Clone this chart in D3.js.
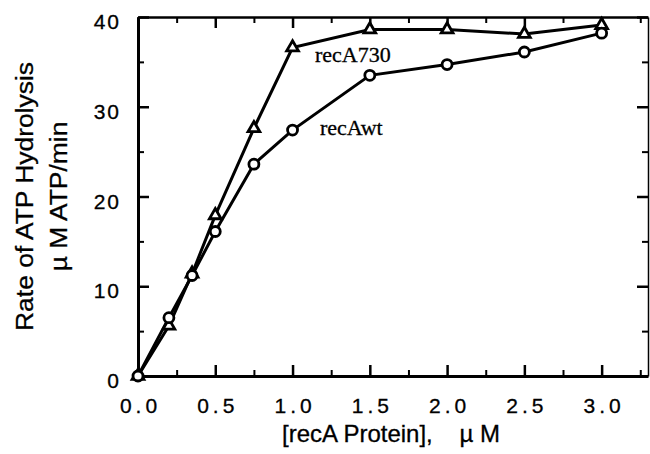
<!DOCTYPE html>
<html>
<head>
<meta charset="utf-8">
<script src="https://cdn.jsdelivr.net/npm/d3@7"></script>
<style>
  body { margin: 0; background: #fff; }
  svg { display: block; }
  .tick text { font-family: "Liberation Sans", Arial, sans-serif; font-size: 21px; fill: #000; stroke: #000; stroke-width: 0.3px; }
  .lbl { font-family: "Liberation Serif", "Times New Roman", serif; font-size: 22px; fill: #000; stroke: #000; stroke-width: 0.3px; }
  .title { font-family: "Liberation Sans", Arial, sans-serif; font-size: 24px; fill: #000; white-space: pre; stroke: #000; stroke-width: 0.3px; }
</style>
</head>
<body>
<div id="chart"></div>
<script>
// data
const conc = [0, 0.2, 0.35, 0.5, 0.75, 1.0, 1.5, 2.0, 2.5, 3.0];
const recA730 = [0, 5.6, 11.4, 17.9, 27.6, 36.6, 38.6, 38.6, 38.1, 39.1];
const recAwt = [0, 6.5, 11.2, 16.1, 23.6, 27.4, 33.5, 34.7, 36.1, 38.2];
const xTicks = [0, 0.5, 1.0, 1.5, 2.0, 2.5, 3.0];
const xMinor = [0.25, 0.75, 1.25, 1.75, 2.25, 2.75, 3.25];
const yTicks = [0, 10, 20, 30, 40];
const yMinor = [5, 15, 25, 35];

const width = 650, height = 454;
const svg = d3.select('#chart').append('svg')
  .attr('width', width).attr('height', height);

const x = d3.scaleLinear().domain([0, 3.3]).range([138, 648]);
const y = d3.scaleLinear().domain([0, 40]).range([376, 17]);

function styleAxis(g, w) {
  g.select('.domain').attr('stroke-width', w);
  g.selectAll('.tick line').attr('stroke-width', 2.5);
}
function minor(g) {
  g.select('.domain').remove();
  g.selectAll('line').attr('stroke-width', 2);
}

// bottom
svg.append('g').attr('transform', `translate(0,${y(0)})`)
  .call(d3.axisBottom(x).tickValues(xTicks).tickSizeInner(-11).tickSizeOuter(0)
    .tickPadding(22).tickFormat(d3.format('.1f')))
  .call(g => styleAxis(g, 3))
  .call(g => g.selectAll('.tick text').attr('letter-spacing', '4px').attr('dx', '2px'));
svg.append('g').attr('transform', `translate(0,${y(0)})`)
  .call(d3.axisBottom(x).tickValues(xMinor).tickSize(-6).tickFormat(''))
  .call(minor);

// top
svg.append('g').attr('transform', `translate(0,${y(40)})`)
  .call(d3.axisTop(x).tickValues(xTicks).tickSizeInner(-11).tickSizeOuter(0).tickFormat(''))
  .call(g => styleAxis(g, 2.5));
svg.append('g').attr('transform', `translate(0,${y(40)})`)
  .call(d3.axisTop(x).tickValues(xMinor).tickSize(-6).tickFormat(''))
  .call(minor);

// left
svg.append('g').attr('transform', `translate(${x(0)},0)`)
  .call(d3.axisLeft(y).tickValues(yTicks).tickSizeInner(-11).tickSizeOuter(0)
    .tickPadding(17).tickFormat(d3.format('d')))
  .call(g => styleAxis(g, 3))
  .call(g => g.selectAll('.tick text').attr('dy', '0.55em').attr('letter-spacing', '2px'));
svg.append('g').attr('transform', `translate(${x(0)},0)`)
  .call(d3.axisLeft(y).tickValues(yMinor).tickSize(-6).tickFormat(''))
  .call(minor);

// right
svg.append('g').attr('transform', `translate(${x(3.3)},0)`)
  .call(d3.axisRight(y).tickValues(yTicks).tickSizeInner(-11).tickSizeOuter(0).tickFormat(''))
  .call(g => styleAxis(g, 1.5));
svg.append('g').attr('transform', `translate(${x(3.3)},0)`)
  .call(d3.axisRight(y).tickValues(yMinor).tickSize(-6).tickFormat(''))
  .call(minor);

// lines
const line = d3.line().x(d => x(d[0])).y(d => y(d[1]));
const s730 = d3.zip(conc, recA730);
const swt = d3.zip(conc, recAwt);

svg.append('path').datum(s730).attr('d', line)
  .attr('fill', 'none').attr('stroke', '#000').attr('stroke-width', 3);
svg.append('path').datum(swt).attr('d', line)
  .attr('fill', 'none').attr('stroke', '#000').attr('stroke-width', 3);

// markers
svg.selectAll('path.tri').data(s730).enter().append('path')
  .attr('class', 'tri')
  .attr('d', d3.symbol(d3.symbolTriangle, 60))
  .attr('transform', d => `translate(${x(d[0])},${y(d[1])})`)
  .attr('fill', '#fff').attr('stroke', '#000').attr('stroke-width', 2.8);
svg.selectAll('circle.pt').data(swt).enter().append('circle')
  .attr('class', 'pt')
  .attr('cx', d => x(d[0])).attr('cy', d => y(d[1])).attr('r', 5)
  .attr('fill', '#fff').attr('stroke', '#000').attr('stroke-width', 2.8);

// series labels
svg.append('text').attr('class', 'lbl').attr('x', 315).attr('y', 62).text('recA730');
svg.append('text').attr('class', 'lbl').attr('x', 320).attr('y', 135).text('recAwt');

// axis titles
svg.append('text').attr('class', 'title')
  .attr('x', 391).attr('y', 442).attr('text-anchor', 'middle')
  .text('[recA Protein],    \u00b5 M');
const yMid = (y(0) + y(40)) / 2;
svg.append('text').attr('class', 'title')
  .attr('transform', `translate(33,${yMid}) rotate(-90) scale(1.1,1)`)
  .attr('text-anchor', 'middle').text('Rate of ATP Hydrolysis');
svg.append('text').attr('class', 'title')
  .attr('transform', `translate(67,${yMid}) rotate(-90) scale(1.1,1)`)
  .attr('text-anchor', 'middle').text('\u00b5 M ATP/min');
</script>
</body>
</html>
